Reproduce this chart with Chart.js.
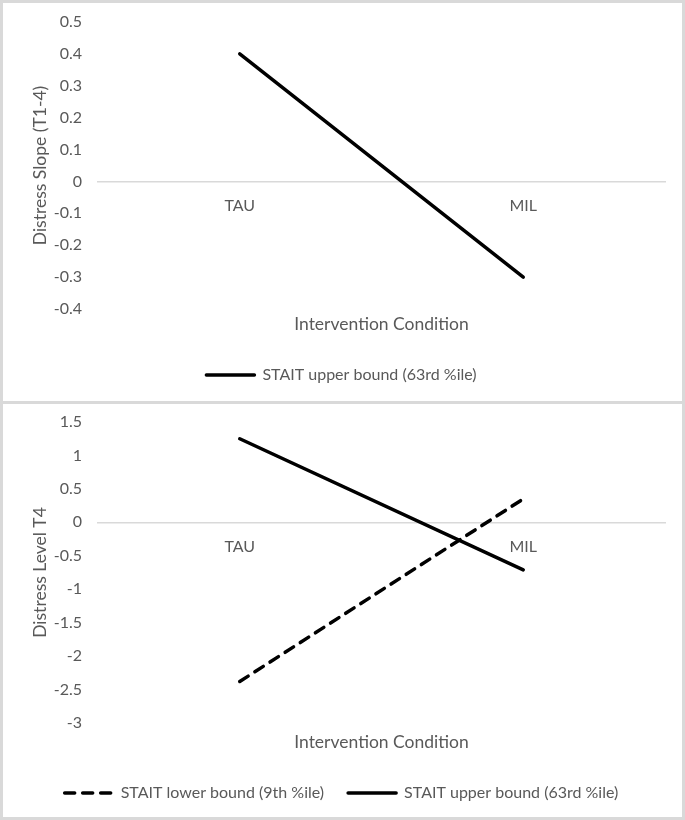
<!DOCTYPE html>
<html>
<head>
<meta charset="utf-8">
<script src="https://cdn.jsdelivr.net/npm/chart.js@4.4.0/dist/chart.umd.min.js"></script>
<style>
  html, body { margin: 0; padding: 0; background: #fff; }
  #frame {
    position: relative;
    width: 685px;
    height: 820px;
    box-sizing: border-box;
    border: 3px solid #d9d9d9;
    background: #d9d9d9;
  }
  .panel { position: absolute; left: 0; width: 679px; background: #fff; }
  #p1 { top: 0; height: 398px; }
  #p2 { top: 401px; height: 413px; }
</style>
</head>
<body>
<div id="frame">
  <div class="panel" id="p1"><canvas id="chart1" width="679" height="398"></canvas></div>
  <div class="panel" id="p2"><canvas id="chart2" width="679" height="413"></canvas></div>
</div>
<script>
// categories
const conditions = ['TAU', 'MIL'];

// chart 1: distress slope
const slopeUpper = [0.4, -0.3];

// chart 2: distress level at T4
const levelLower = [-2.38, 0.35];
const levelUpper = [1.25, -0.71];

const textColor = '#595959';
const fontFamily = 'Lato, "Open Sans", sans-serif';

function makeChart(canvasId, datasets, yTitle, yMin, yMax, yStep, padTop, padBottom, titleBoxHeight) {
    let config = {
        type: 'line',
        data: {
            labels: conditions,
            datasets: datasets
        },
        options: {
            responsive: false,
            animation: false,
            layout: {
                padding: { left: 15, right: 17, top: padTop, bottom: padBottom }
            },
            plugins: {
                legend: {
                    position: 'bottom',
                    labels: {
                        usePointStyle: true,
                        pointStyle: 'line',
                        pointStyleWidth: 48,
                        color: textColor,
                        font: { family: fontFamily, size: 16 },
                        padding: 24,
                        // point style legend ignores the dataset dash, copy it over
                        generateLabels: function(chart) {
                            let items = Chart.defaults.plugins.legend.labels.generateLabels(chart);
                            items.forEach((item) => {
                                let ds = chart.data.datasets[item.datasetIndex];
                                item.lineDash = ds.borderDash;
                                item.lineWidth = ds.borderWidth;
                                item.lineCap = 'round';
                                item.strokeStyle = ds.borderColor;
                            });
                            return items;
                        }
                    }
                },
                tooltip: { enabled: false }
            },
            scales: {
                x: {
                    type: 'category',
                    offset: true,
                    position: { y: 0 },
                    grid: { display: false },
                    border: { display: true, color: '#d9d9d9', width: 1.5 },
                    ticks: {
                        color: textColor,
                        font: { family: fontFamily, size: 16 },
                        padding: 7
                    }
                },
                x2: {
                    type: 'category',
                    position: 'bottom',
                    offset: true,
                    grid: { display: false },
                    border: { display: false },
                    ticks: { display: false },
                    title: {
                        display: true,
                        text: 'Intervention Condition',
                        color: textColor,
                        font: { family: fontFamily, size: 17.5 },
                        padding: { top: 0, bottom: 8 }
                    },
                    afterFit: function(scale) {
                        scale.height = titleBoxHeight;
                    }
                },
                y: {
                    type: 'linear',
                    min: yMin,
                    max: yMax,
                    grid: { display: false },
                    border: { display: false },
                    ticks: {
                        stepSize: yStep,
                        color: textColor,
                        font: { family: fontFamily, size: 16 },
                        padding: 8,
                        callback: function(value) {
                            return String(Number(value.toFixed(2)));
                        }
                    },
                    title: {
                        display: true,
                        text: yTitle,
                        color: textColor,
                        font: { family: fontFamily, size: 17.5 },
                        padding: { top: 12, bottom: 0 }
                    },
                    afterFit: function(scale) {
                        scale.width = 80;
                    }
                }
            }
        }
    };
    let ctx = document.getElementById(canvasId).getContext('2d');
    return new Chart(ctx, config);
}

function lineSet(label, values, dash) {
    return {
        label: label,
        data: values,
        xAxisID: 'x',
        borderColor: '#000',
        backgroundColor: '#000',
        borderWidth: 3.5,
        borderDash: dash,
        borderCapStyle: 'round',
        pointRadius: 0,
        pointHoverRadius: 0,
        tension: 0
    };
}

makeChart('chart1', [
    lineSet('STAIT upper bound (63rd %ile)', slopeUpper, [])
], 'Distress Slope (T1-4)', -0.4, 0.5, 0.1, 19, 8, 34);

makeChart('chart2', [
    lineSet('STAIT lower bound (9th %ile)', levelLower, [10, 8]),
    lineSet('STAIT upper bound (63rd %ile)', levelUpper, [])
], 'Distress Level T4', -3, 1.5, 0.5, 18, 6, 38);
</script>
</body>
</html>
